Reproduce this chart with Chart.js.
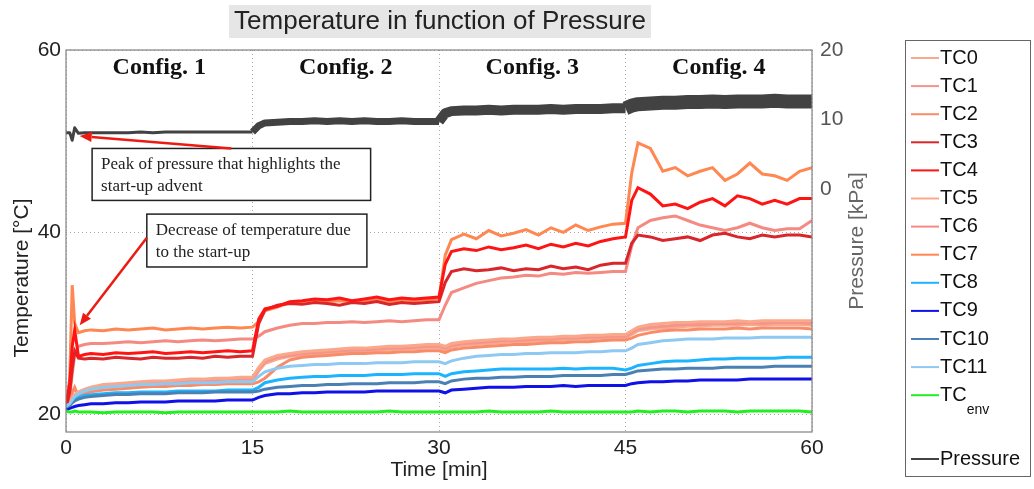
<!DOCTYPE html>
<html>
<head>
<meta charset="utf-8">
<title>Temperature in function of Pressure</title>
<script src="https://cdn.jsdelivr.net/npm/chart.js@4.4.1/dist/chart.umd.min.js"></script>
<style>
  html, body { margin: 0; padding: 0; background: #fff; }
  #wrap { width: 1034px; height: 489px; position: relative; }
</style>
</head>
<body>
<div id="wrap"><canvas id="temp-pressure-chart"></canvas></div>
<script>
// Sample times [min], denser around start-up and each config change
const time = [
  0, 0.3, 0.5, 0.7, 1, 1.5, 2, 3, 4, 5, 6, 7, 8, 9, 10, 11, 12, 13, 14,
  15, 15.5, 16, 17, 18, 19, 20, 21, 22, 23, 24, 25, 26, 27, 28, 29,
  30, 30.5, 31, 32, 33, 34, 35, 36, 37, 38, 39, 40, 41, 42, 43, 44,
  45, 45.5, 46, 47, 48, 49, 50, 51, 52, 53, 54, 55, 56, 57, 58, 59, 60,
];

// Thermocouple readings [°C]
const tc0 = [
  20.8, 21.1, 21.6, 22.0, 22.3, 22.6, 22.8, 23.0, 23.1, 23.2, 23.3, 23.3, 23.4, 23.5, 23.5, 23.6, 23.6, 23.7, 23.7,
  23.7, 24.8, 25.6, 26.1, 26.4, 26.5, 26.6, 26.8, 26.8, 26.9, 27.0, 27.0, 27.1, 27.2, 27.2, 27.3,
  27.3, 27.1, 27.4, 27.6, 27.7, 27.8, 27.9, 28.0, 28.0, 28.1, 28.1, 28.2, 28.3, 28.3, 28.4, 28.4,
  28.4, 28.8, 29.2, 29.4, 29.5, 29.6, 29.7, 29.7, 29.8, 29.8, 29.8, 29.9, 29.8, 29.9, 29.9, 29.9, 29.8,
];
const tc1 = [
  20.8, 21.1, 21.7, 22.1, 22.4, 22.7, 22.9, 23.1, 23.2, 23.3, 23.4, 23.5, 23.5, 23.6, 23.7, 23.7, 23.8, 23.8, 23.9,
  23.9, 25.0, 25.8, 26.3, 26.5, 26.7, 26.8, 26.9, 27.0, 27.1, 27.1, 27.2, 27.3, 27.3, 27.4, 27.5,
  27.5, 27.3, 27.6, 27.8, 27.9, 28.0, 28.1, 28.1, 28.2, 28.3, 28.3, 28.4, 28.4, 28.5, 28.5, 28.6,
  28.6, 29.0, 29.4, 29.6, 29.7, 29.8, 29.9, 29.9, 30.0, 30.0, 30.0, 30.1, 30.0, 30.1, 30.1, 30.1, 30.0,
];
const tc2 = [
  20.8, 21.0, 22.4, 23.0, 22.0, 22.3, 22.5, 22.7, 22.8, 22.9, 23.0, 23.1, 23.1, 23.2, 23.2, 23.3, 23.3, 23.4, 23.4,
  23.4, 23.6, 24.0, 25.2, 26.0, 26.3, 26.4, 26.5, 26.6, 26.7, 26.7, 26.8, 26.8, 26.9, 26.9, 27.0,
  27.0, 26.8, 27.1, 27.3, 27.4, 27.5, 27.6, 27.7, 27.7, 27.8, 27.9, 27.9, 28.0, 28.0, 28.1, 28.2,
  28.2, 28.4, 28.7, 29.0, 29.2, 29.3, 29.3, 29.4, 29.4, 29.4, 29.5, 29.4, 29.5, 29.5, 29.5, 29.5, 29.4,
];
const tc3 = [
  20.7, 22.5, 25.0, 27.0, 26.2, 26.1, 26.2, 26.1, 26.3, 26.2, 26.1, 26.3, 26.2, 26.2, 26.3, 26.2, 26.4, 26.3, 26.4,
  26.4, 30.0, 31.5, 32.0, 32.2, 32.1, 32.3, 32.2, 32.0, 32.3, 32.2, 32.4, 32.1, 32.3, 32.2, 32.3,
  32.4, 34.5, 35.7, 36.0, 35.8, 35.9, 36.1, 35.8, 36.0, 35.9, 36.3, 36.0, 36.2, 35.9, 36.4, 36.6,
  36.6, 38.8, 39.7, 39.5, 39.1, 39.3, 39.5, 39.1, 39.7, 39.9, 39.5, 39.3, 39.7, 39.5, 39.7, 39.7, 39.5,
];
const tc4 = [
  20.8, 23.5, 27.5, 29.3, 26.4, 26.6, 26.7, 26.6, 26.8, 26.7, 26.8, 26.9, 26.7, 26.8, 26.9, 26.8, 26.9, 27.0, 26.9,
  27.0, 30.5, 31.6, 31.9, 32.4, 32.5, 32.7, 32.6, 32.8, 32.5, 32.7, 32.9, 32.6, 32.8, 32.7, 32.8,
  32.9, 36.5, 37.9, 38.2, 38.0, 38.4, 38.1, 38.3, 38.6, 38.2, 38.7, 38.4, 38.8, 38.5, 39.0, 39.3,
  39.5, 43.5, 44.9, 44.2, 42.9, 43.1, 42.6, 43.3, 43.7, 42.9, 44.0, 43.7, 43.1, 43.5, 43.1, 43.7, 43.7,
];
const tc5 = [
  20.8, 21.2, 21.8, 22.2, 22.5, 22.8, 23.0, 23.3, 23.4, 23.5, 23.6, 23.7, 23.7, 23.8, 23.9, 23.9, 24.0, 24.0, 24.1,
  24.1, 25.2, 26.0, 26.5, 26.7, 26.9, 27.0, 27.1, 27.2, 27.3, 27.3, 27.4, 27.5, 27.5, 27.6, 27.7,
  27.7, 27.5, 27.8, 28.0, 28.1, 28.2, 28.3, 28.3, 28.4, 28.5, 28.5, 28.6, 28.6, 28.7, 28.7, 28.8,
  28.8, 29.2, 29.6, 29.9, 30.0, 30.1, 30.1, 30.2, 30.2, 30.2, 30.3, 30.2, 30.3, 30.3, 30.3, 30.3, 30.3,
];
const tc6 = [
  20.8, 22.0, 24.5, 26.5, 27.5, 27.7, 27.8, 27.8, 27.9, 28.0, 27.9, 28.0, 28.1, 28.0, 28.1, 28.2, 28.1, 28.2, 28.3,
  28.3, 28.6, 29.1, 29.5, 29.8, 30.0, 30.0, 30.1, 30.1, 30.2, 30.1, 30.2, 30.3, 30.2, 30.3, 30.4,
  30.4, 32.0, 33.4, 33.9, 34.4, 34.7, 35.0, 35.1, 35.3, 35.2, 35.5, 35.4, 35.6, 35.5, 35.6, 35.7,
  35.7, 38.5, 40.5, 41.3, 41.6, 41.8, 41.3, 40.8, 40.5, 40.2, 40.5, 41.0, 40.5, 40.2, 40.4, 40.4, 41.3,
];
const tc7 = [
  20.9, 24.0, 34.2, 30.0, 29.0, 29.2, 29.3, 29.2, 29.4, 29.3, 29.4, 29.5, 29.3, 29.4, 29.5, 29.4, 29.5, 29.6, 29.5,
  29.6, 30.2, 31.4, 31.8, 32.3, 32.3, 32.5, 32.4, 32.5, 32.4, 32.5, 32.6, 32.4, 32.6, 32.5, 32.6,
  32.7, 37.5, 39.2, 39.8, 39.3, 40.2, 39.6, 39.9, 40.3, 39.7, 40.5, 40.0, 40.8, 40.2, 40.6, 40.9,
  41.0, 46.5, 49.8, 49.2, 46.7, 47.1, 46.2, 46.7, 47.1, 45.7, 46.4, 47.6, 46.4, 46.2, 45.7, 46.7, 47.1,
];
const tc8 = [
  20.9, 21.1, 21.4, 21.7, 21.9, 22.1, 22.2, 22.3, 22.4, 22.4, 22.5, 22.5, 22.5, 22.6, 22.6, 22.6, 22.6, 22.7, 22.7,
  22.7, 23.0, 23.5, 23.8, 24.0, 24.1, 24.2, 24.2, 24.3, 24.3, 24.3, 24.4, 24.4, 24.4, 24.5, 24.5,
  24.5, 24.2, 24.5, 24.7, 24.8, 24.9, 25.0, 25.0, 25.0, 25.0, 25.0, 25.1, 25.0, 25.1, 25.1, 25.1,
  24.9, 25.1, 25.4, 25.6, 25.8, 25.9, 25.9, 26.0, 26.1, 26.1, 26.2, 26.2, 26.2, 26.2, 26.3, 26.3, 26.3,
];
const tc9 = [
  20.6, 20.7, 20.8, 20.9, 21.0, 21.1, 21.2, 21.2, 21.3, 21.3, 21.4, 21.4, 21.4, 21.5, 21.5, 21.5, 21.5, 21.6, 21.6,
  21.6, 21.9, 22.1, 22.3, 22.3, 22.4, 22.4, 22.5, 22.5, 22.5, 22.5, 22.6, 22.6, 22.6, 22.6, 22.6,
  22.6, 22.4, 22.7, 22.8, 22.9, 23.0, 23.0, 23.0, 23.1, 23.1, 23.1, 23.2, 23.1, 23.2, 23.2, 23.2,
  23.2, 23.4, 23.5, 23.6, 23.6, 23.7, 23.7, 23.8, 23.8, 23.8, 23.8, 23.9, 23.9, 23.9, 23.9, 23.9, 23.9,
];
const tc10 = [
  20.8, 21.0, 21.3, 21.5, 21.7, 21.9, 22.0, 22.1, 22.2, 22.2, 22.3, 22.3, 22.3, 22.4, 22.4, 22.4, 22.5, 22.5, 22.5,
  22.5, 22.6, 22.8, 23.0, 23.1, 23.2, 23.2, 23.3, 23.3, 23.4, 23.4, 23.4, 23.5, 23.5, 23.5, 23.6,
  23.6, 23.4, 23.7, 23.9, 24.0, 24.0, 24.1, 24.1, 24.2, 24.2, 24.2, 24.3, 24.3, 24.3, 24.3, 24.4,
  24.4, 24.6, 24.8, 24.9, 25.0, 25.0, 25.1, 25.1, 25.1, 25.2, 25.2, 25.2, 25.2, 25.3, 25.3, 25.3, 25.3,
];
const tc11 = [
  20.9, 21.2, 21.6, 22.0, 22.3, 22.6, 22.8, 23.0, 23.1, 23.2, 23.3, 23.3, 23.4, 23.4, 23.5, 23.5, 23.5, 23.6, 23.6,
  23.6, 24.2, 24.7, 25.1, 25.3, 25.4, 25.5, 25.5, 25.6, 25.6, 25.6, 25.7, 25.7, 25.7, 25.8, 25.8,
  25.8, 25.6, 25.9, 26.2, 26.4, 26.5, 26.6, 26.6, 26.7, 26.7, 26.8, 26.8, 26.8, 26.9, 26.9, 27.0,
  27.0, 27.3, 27.7, 27.9, 28.1, 28.2, 28.3, 28.3, 28.3, 28.4, 28.4, 28.4, 28.5, 28.5, 28.5, 28.5, 28.5,
];
const tcEnv = [
  20.4, 20.3, 20.3, 20.4, 20.3, 20.3, 20.3, 20.2, 20.3, 20.3, 20.3, 20.3, 20.2, 20.3, 20.3, 20.3, 20.3, 20.3, 20.3,
  20.3, 20.3, 20.3, 20.3, 20.4, 20.3, 20.3, 20.3, 20.3, 20.3, 20.3, 20.3, 20.4, 20.3, 20.3, 20.3,
  20.3, 20.3, 20.3, 20.3, 20.3, 20.4, 20.3, 20.3, 20.3, 20.3, 20.4, 20.3, 20.3, 20.3, 20.3, 20.3,
  20.3, 20.3, 20.4, 20.3, 20.4, 20.4, 20.3, 20.4, 20.4, 20.4, 20.3, 20.4, 20.4, 20.4, 20.4, 20.4, 20.3,
];

// Loop pressure [kPa]
const pressure = [
  8.1, 8.1, 7.0, 8.8, 8.0, 8.1, 8.1, 8.1, 8.1, 8.1, 8.2, 8.1, 8.2, 8.2, 8.2, 8.2, 8.2, 8.2, 8.2,
  8.2, 9.1, 9.5, 9.6, 9.7, 9.7, 9.8, 9.7, 9.8, 9.7, 9.8, 9.7, 9.7, 9.8, 9.7, 9.7,
  9.7, 10.9, 11.2, 11.3, 11.3, 11.4, 11.3, 11.4, 11.4, 11.4, 11.5, 11.4, 11.5, 11.5, 11.5, 11.6,
  11.6, 12.0, 12.2, 12.3, 12.4, 12.4, 12.5, 12.5, 12.6, 12.5, 12.6, 12.6, 12.6, 12.7, 12.6, 12.6, 12.6,
];

const configNames = ["Config. 1", "Config. 2", "Config. 3", "Config. 4"];
const configMid = [7.5, 22.5, 37.5, 52.5];
const tempTicks = [20, 40, 60];
const pressureTicks = [0, 10, 20];

const series = [
  { label: "TC0", data: tc0, color: "#f9a98c", layer: 2 },
  { label: "TC1", data: tc1, color: "#f3948e", layer: 3 },
  { label: "TC2", data: tc2, color: "#f98c68", layer: 4 },
  { label: "TC3", data: tc3, color: "#d8262b", layer: 6 },
  { label: "TC4", data: tc4, color: "#ff1414", layer: 7 },
  { label: "TC5", data: tc5, color: "#fba88a", layer: 5 },
  { label: "TC6", data: tc6, color: "#f58a82", layer: 1 },
  { label: "TC7", data: tc7, color: "#ff8752", layer: 0 },
  { label: "TC8", data: tc8, color: "#1cb4ff", layer: 8 },
  { label: "TC9", data: tc9, color: "#1010e8", layer: 9 },
  { label: "TC10", data: tc10, color: "#4a80b4", layer: 10 },
  { label: "TC11", data: tc11, color: "#8ec9f3", layer: 11 },
  { label: "TC", sub: "env", data: tcEnv, color: "#22ee22", layer: 12 },
];

const FONT = "'Liberation Sans', Arial, sans-serif";
const SERIF = "'Liberation Serif', 'Times New Roman', serif";

function toPoints(values) {
  return values.map((v, i) => ({ x: time[i], y: v }));
}

// pressure trace is a noisy band that widens with each config
function pressureWidth(ctx) {
  const t = ctx.p0.parsed.x;
  if (t < 15) return 3;
  if (t < 30) return 7;
  if (t < 45) return 10;
  return 14;
}

const datasets = series.map((s) => ({
  label: s.sub ? s.label + s.sub : s.label,
  data: toPoints(s.data),
  borderColor: s.color,
  backgroundColor: s.color,
  borderWidth: 3,
  pointRadius: 0,
  tension: 0,
  yAxisID: "y",
  order: 20 - s.layer,
}));

datasets.push({
  label: "Pressure",
  data: toPoints(pressure),
  borderColor: "#424242",
  backgroundColor: "#424242",
  borderWidth: 3,
  borderJoinStyle: "round",
  pointRadius: 0,
  tension: 0,
  yAxisID: "y1",
  order: 30,
  segment: { borderWidth: pressureWidth },
});

function drawArrow(ctx, x0, y0, x1, y1) {
  const a = Math.atan2(y1 - y0, x1 - x0);
  const len = 12, half = 5;
  const bx = x1 - len * Math.cos(a);
  const by = y1 - len * Math.sin(a);
  ctx.strokeStyle = "#ee1a12";
  ctx.fillStyle = "#ee1a12";
  ctx.lineWidth = 2.5;
  ctx.beginPath();
  ctx.moveTo(x0, y0);
  ctx.lineTo(bx, by);
  ctx.stroke();
  ctx.beginPath();
  ctx.moveTo(x1, y1);
  ctx.lineTo(bx + half * Math.sin(a), by - half * Math.cos(a));
  ctx.lineTo(bx - half * Math.sin(a), by + half * Math.cos(a));
  ctx.closePath();
  ctx.fill();
}

function drawNote(ctx, x0, y0, x1, y1, lines) {
  ctx.fillStyle = "#fff";
  ctx.fillRect(x0, y0, x1 - x0, y1 - y0);
  ctx.strokeStyle = "#222";
  ctx.lineWidth = 1.5;
  ctx.strokeRect(x0, y0, x1 - x0, y1 - y0);
  ctx.fillStyle = "#222";
  ctx.font = "17px " + SERIF;
  ctx.textAlign = "left";
  ctx.textBaseline = "middle";
  lines.forEach((txt, i) => ctx.fillText(txt, x0 + 9, y0 + 16 + i * 22));
}

const chartDecor = {
  id: "chartDecor",
  beforeDraw(chart) {
    const ctx = chart.ctx;
    ctx.save();
    ctx.fillStyle = "#fff";
    ctx.fillRect(0, 0, chart.width, chart.height);
    ctx.restore();
  },
  afterDatasetsDraw(chart) {
    const { ctx, chartArea: area, scales } = chart;
    const x = scales.x, y = scales.y, y1 = scales.y1;
    ctx.save();

    // axes box
    ctx.strokeStyle = "#808080";
    ctx.lineWidth = 1.2;
    ctx.strokeRect(area.left, area.top, area.right - area.left, area.bottom - area.top);

    // config labels
    ctx.fillStyle = "#111";
    ctx.font = "bold 24px " + SERIF;
    ctx.textAlign = "center";
    ctx.textBaseline = "middle";
    configNames.forEach((name, i) => {
      ctx.fillText(name, x.getPixelForValue(configMid[i]), area.top + 18);
    });

    // notes and arrows
    drawNote(ctx, x.getPixelForValue(2.1), y.getPixelForValue(49.2),
      x.getPixelForValue(24.5), y.getPixelForValue(43.5),
      ["Peak of pressure that highlights the", "start-up advent"]);
    drawArrow(ctx, x.getPixelForValue(13.3), y.getPixelForValue(49.2),
      x.getPixelForValue(1.1), y1.getPixelForValue(7.6));

    drawNote(ctx, x.getPixelForValue(6.5), y.getPixelForValue(42.0),
      x.getPixelForValue(24.2), y.getPixelForValue(36.2),
      ["Decrease of temperature due", "to the start-up"]);
    drawArrow(ctx, x.getPixelForValue(6.5), y.getPixelForValue(39.4),
      x.getPixelForValue(1.1), y.getPixelForValue(29.8));

    ctx.restore();
  },
  afterDraw(chart) {
    const { ctx, chartArea: area } = chart;
    ctx.save();

    // title with grey background
    const title = "Temperature in function of Pressure";
    ctx.font = "26px " + FONT;
    const w = ctx.measureText(title).width;
    const cx = 440;
    ctx.fillStyle = "#e6e6e6";
    ctx.fillRect(cx - w / 2 - 5, 5, w + 10, 33);
    ctx.fillStyle = "#222";
    ctx.textAlign = "center";
    ctx.textBaseline = "middle";
    ctx.fillText(title, cx, 22);

    // axis titles, both reading bottom to top
    ctx.font = "21px " + FONT;
    ctx.save();
    ctx.translate(22, 278);
    ctx.rotate(-Math.PI / 2);
    ctx.fillText("Temperature [\u00b0C]", 0, 0);
    ctx.restore();

    ctx.save();
    ctx.translate(857, (area.top + area.bottom) / 2);
    ctx.rotate(-Math.PI / 2);
    ctx.fillStyle = "#666";
    ctx.fillText("Pressure [kPa]", 0, 0);
    ctx.restore();

    // legend box
    const lx = 905, ly = 40, lw = 125, lh = 436;
    ctx.strokeStyle = "#666";
    ctx.lineWidth = 1;
    ctx.strokeRect(lx + 0.5, ly + 0.5, lw, lh);
    ctx.textAlign = "left";
    ctx.textBaseline = "middle";
    const rowY = (i) => 58 + i * 28.1;
    const entries = series.map((s) => ({ label: s.label, sub: s.sub, color: s.color }));
    entries.push({ label: "Pressure", color: "#424242" });
    entries.forEach((e, i) => {
      const yy = e.label === "Pressure" ? 459 : rowY(i);
      ctx.strokeStyle = e.color;
      ctx.lineWidth = 2;
      ctx.beginPath();
      ctx.moveTo(911, yy);
      ctx.lineTo(939, yy);
      ctx.stroke();
      ctx.fillStyle = "#111";
      ctx.font = "20px " + FONT;
      ctx.fillText(e.label, 940, yy);
      if (e.sub) {
        const tw = ctx.measureText(e.label).width;
        ctx.font = "14px " + FONT;
        ctx.fillText(e.sub, 940 + tw, yy + 15);
      }
    });

    ctx.restore();
  },
};

const ctx = document.getElementById("temp-pressure-chart").getContext("2d");

new Chart(ctx, {
  type: "line",
  data: { datasets: datasets },
  options: {
    responsive: true,
    maintainAspectRatio: false,
    animation: false,
    layout: { padding: { left: 6, top: 50, right: 162, bottom: 0 } },
    plugins: {
      legend: { display: false },
      title: { display: false },
      tooltip: { enabled: false },
    },
    scales: {
      x: {
        type: "linear",
        min: 0,
        max: 60,
        ticks: {
          stepSize: 15,
          padding: 4,
          color: "#222",
          font: { family: FONT, size: 21 },
        },
        grid: { color: "#a8a8a8", lineWidth: 1, drawTicks: false },
        border: { display: false, dash: [1, 3] },
        title: {
          display: true,
          text: "Time [min]",
          color: "#222",
          font: { family: FONT, size: 21 },
          padding: { top: 0, bottom: 6 },
        },
        afterFit: (scale) => { scale.height = 57; },
      },
      y: {
        type: "linear",
        position: "left",
        min: 18.1,
        max: 60,
        afterBuildTicks: (scale) => {
          scale.ticks = tempTicks.map((v) => ({ value: v }));
        },
        ticks: {
          padding: 5,
          color: "#222",
          font: { family: FONT, size: 21 },
        },
        grid: { color: "#a8a8a8", lineWidth: 1, drawTicks: false },
        border: { display: false, dash: [1, 3] },
        afterFit: (scale) => { scale.width = 60; },
      },
      y1: {
        type: "linear",
        position: "right",
        min: -35,
        max: 20,
        afterBuildTicks: (scale) => {
          scale.ticks = pressureTicks.map((v) => ({ value: v }));
        },
        ticks: {
          padding: 8,
          color: "#555",
          font: { family: FONT, size: 21 },
        },
        grid: { display: false, drawTicks: false },
        border: { display: false },
        afterFit: (scale) => { scale.width = 60; },
      },
    },
  },
  plugins: [chartDecor],
});
</script>
</body>
</html>
